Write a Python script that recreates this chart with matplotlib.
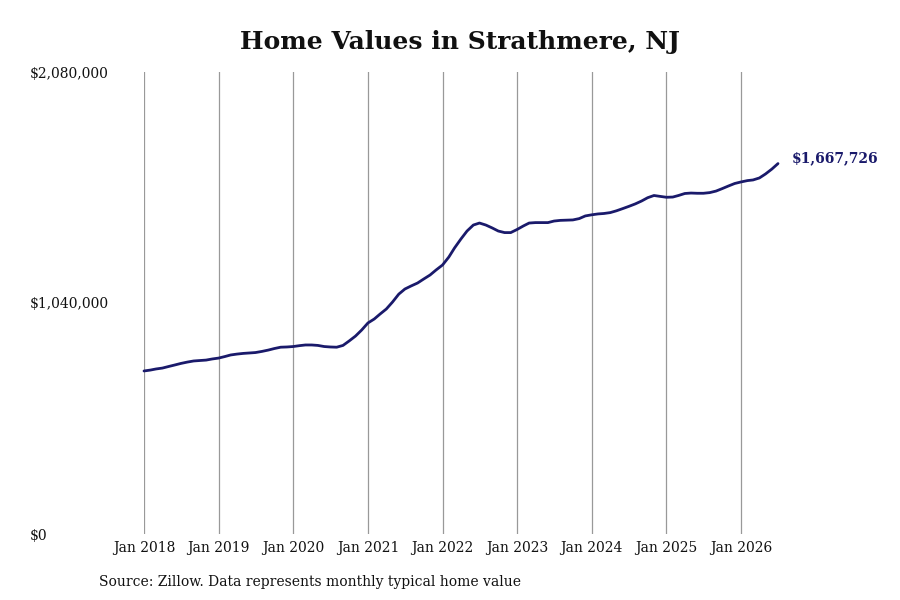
import numpy as np
import pandas as pd
import matplotlib
matplotlib.use("Agg")
import matplotlib.pyplot as plt
import matplotlib.dates as mdates
from matplotlib.ticker import FixedLocator

# monthly typical home value, Jan 2018 - Jul 2026
values_2018 = [734000, 738000, 743000, 747000, 754000, 761000, 768000, 774000, 779000, 781000, 783000, 788000]
values_2019 = [792000, 799000, 806000, 810000, 813000, 815000, 817000, 822000, 828000, 835000, 841000, 842000]
values_2020 = [844000, 848000, 851000, 851000, 849000, 844000, 842000, 841000, 849000, 869000, 891000, 918000]
values_2021 = [950000, 968000, 990000, 1013000, 1044000, 1080000, 1103000, 1117000, 1130000, 1148000, 1166000, 1189000]
values_2022 = [1211000, 1247000, 1288000, 1328000, 1364000, 1391000, 1400000, 1391000, 1378000, 1364000, 1357000, 1357000]
values_2023 = [1371000, 1387000, 1400000, 1402000, 1402000, 1402000, 1409000, 1412000, 1413000, 1414000, 1420000, 1432000]
values_2024 = [1437000, 1441000, 1443000, 1447000, 1455000, 1465000, 1475000, 1486000, 1499000, 1514000, 1524000, 1520000]
values_2025 = [1516000, 1517000, 1524000, 1533000, 1535000, 1534000, 1534000, 1537000, 1544000, 1555000, 1567000, 1578000]
values_2026 = [1585000, 1591000, 1594000, 1603000, 1621000, 1643000, 1667726]

values = (values_2018 + values_2019 + values_2020 + values_2021 + values_2022
          + values_2023 + values_2024 + values_2025 + values_2026)
dates = pd.date_range("2018-01-01", periods=len(values), freq="MS")

year_ticks = pd.date_range("2018-01-01", "2026-01-01", freq="YS")
y_ticks = [0, 1040000, 2080000]
y_labels = ["$0", "$1,040,000", "$2,080,000"]
end_label = "$1,667,726"

line_color = "#1a1a6b"
plt.rcParams["font.family"] = ["DejaVu Serif"]

fig = plt.figure(figsize=(9, 6), dpi=100)
ax = fig.add_axes([144 / 900, 66 / 600, (778 - 144) / 900, 462 / 600])

ax.plot(dates, values, color=line_color, lw=2.0, solid_capstyle="round",
        solid_joinstyle="round", zorder=3, clip_on=False)

ax.set_xlim(dates[0], dates[-1])
ax.set_ylim(0, 2080000)

ax.xaxis.set_major_locator(FixedLocator(mdates.date2num(year_ticks)))
ax.xaxis.set_major_formatter(mdates.DateFormatter("Jan %Y"))
ax.set_yticks(y_ticks)
ax.set_yticklabels(y_labels)

ax.grid(axis="x", color="#999999", lw=0.9)
ax.grid(axis="y", visible=False)
for s in ax.spines.values():
    s.set_visible(False)
ax.tick_params(axis="both", length=0, labelsize=10, colors="#111111")
ax.tick_params(axis="x", pad=5)
ax.tick_params(axis="y", pad=114 * 72 / 100)
for lab in ax.get_yticklabels():
    lab.set_horizontalalignment("left")

ax.annotate(end_label, xy=(dates[-1], values[-1]), xytext=(10, 4), textcoords="offset points",
            ha="left", va="center", fontsize=10, fontweight="bold", color=line_color,
            annotation_clip=False)

fig.text(0.511, 0.93, "Home Values in Strathmere, NJ", ha="center", va="center",
         fontsize=18, fontweight="bold", color="#111111")
fig.text(99 / 900, 1 - 582 / 600, "Source: Zillow. Data represents monthly typical home value",
         ha="left", va="center", fontsize=10, color="#111111")

fig.savefig("out.png", dpi=100, facecolor="white")
